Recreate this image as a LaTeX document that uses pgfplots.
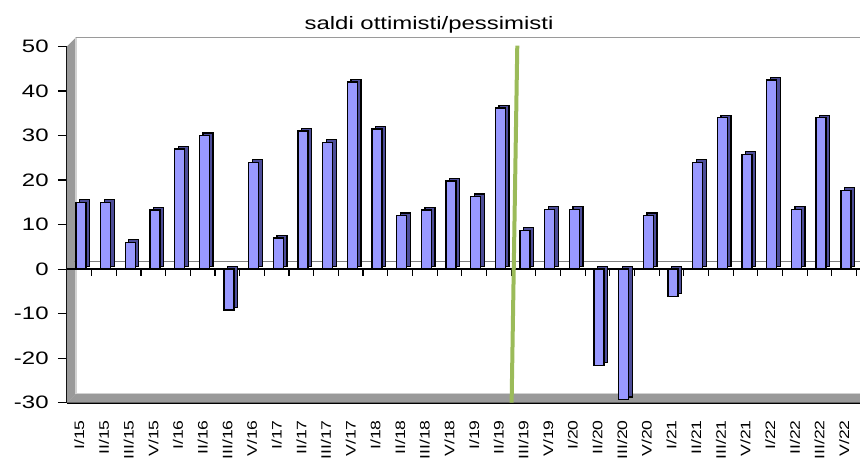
\documentclass[border=0pt]{standalone}
\usepackage{fontspec}
\setmainfont{Liberation Sans}
\usepackage{pgfplots}
\usepackage{pgfplotstable}
\pgfplotsset{compat=1.18}
\definecolor{barfront}{HTML}{9999FF}
\definecolor{barside}{HTML}{4D4D99}
\definecolor{wallgray}{HTML}{9A9A9A}
\definecolor{divgreen}{HTML}{9BBB59}

% saldi ottimisti/pessimisti, one value per quarter
\pgfplotstableread{
x y
0 15
1 15
2 6
3 13.3
4 27
5 30
6 -9.2
7 24
8 7
9 31
10 28.5
11 42
12 31.5
13 12
14 13.3
15 19.8
16 16.3
17 36.2
18 8.7
19 13.4
20 13.4
21 -21.6
22 -29.3
23 12
24 -6.1
25 24
26 34
27 25.8
28 42.5
29 13.4
30 34
31 17.7
}\saldi

\begin{document}
\begin{tikzpicture}
\begin{axis}[
  scale only axis,
  width=396.5pt, height=178.1pt,
  xmin=-0.5, xmax=31.64,
  ymin=-30, ymax=50,
  clip=false,
  axis lines*=left,
  axis line style={black, line width=0.9pt},
  xtick={0,...,31},
  xticklabels={I/15,II/15,III/15,V/15,I/16,II/16,III/16,V/16,I/17,II/17,III/17,V/17,I/18,II/18,III/18,V/18,I/19,II/19,III/19,V/19,I/20,II/20,III/20,V/20,I/21,II/21,III/21,V/21,I/22,II/22,III/22,V/22},
  x tick style={draw=none},
  xticklabel style={yshift=-0.8pt, rotate=90, yscale=0.78, anchor=east, font=\fontsize{8.8}{10}\selectfont},
  ytick={-30,-20,...,50},
  yticklabels={-30,-20,-10,0,10,20,30,40,50},
  y tick style={black, line width=0.6pt},
  tick align=outside,
  major tick length=4.5pt,
  yticklabel style={xscale=1.33, font=\fontsize{9}{10}\selectfont},
]
% walls of the 3d frame
\fill[wallgray] (axis cs:-0.5,-30) -- (axis cs:-0.5,50) -- ([shift={(4.5pt,4.5pt)}]axis cs:-0.5,50)
  -- ([shift={(4.5pt,4.5pt)}]axis cs:-0.5,-30) -- cycle;
\fill[wallgray] (axis cs:-0.5,-30) -- ([shift={(4.5pt,4.5pt)}]axis cs:-0.5,-30)
  -- ([shift={(4.5pt,4.5pt)}]axis cs:33,-30) -- (axis cs:33,-30) -- cycle;
\draw[gray!35, line width=0.6pt] ([shift={(4.5pt,4.5pt)}]axis cs:-0.5,50) -- ([shift={(4.5pt,4.5pt)}]axis cs:-0.5,-30)
  -- ([shift={(4.5pt,4.5pt)}]axis cs:33,-30);
\draw[wallgray, line width=0.8pt] ([shift={(4.5pt,4.5pt)}]axis cs:-0.5,50) -- ([shift={(4.5pt,4.5pt)}]axis cs:33,50);
% zero plane with its category ticks
\draw[gray, line width=0.4pt] (axis cs:-0.2,1.7) -- (axis cs:33,1.7);
\draw[black, line width=0.9pt] (axis cs:-0.5,0) -- (axis cs:33,0);
\pgfplotsinvokeforeach{0.5,1.5,...,31.5}{\draw[black, line width=0.6pt] (axis cs:#1,0) -- ([yshift=-3.3pt]axis cs:#1,0);}

\addplot[ybar, bar width=5pt, bar shift=2.6pt, yshift=1.3pt, fill=barside, draw=black, line width=0.6pt] table[x=x, y=y] {\saldi};
\addplot[ybar, bar width=5pt, bar shift=0.8pt, fill=barfront, draw=black, line width=0.7pt] table[x=x, y=y] {\saldi};

\draw[divgreen, line width=2pt] (axis cs:17.75,50.2) -- (axis cs:17.52,-30);

\node[anchor=base, xscale=1.33, font=\fontsize{9}{10}\selectfont] at ([yshift=8.6pt]rel axis cs:0.4565,1) {saldi ottimisti/pessimisti};
\coordinate (bl) at (rel axis cs:0,0);
\coordinate (tr) at (rel axis cs:1,1);
\end{axis}
\pgfresetboundingbox
\path[use as bounding box] ([shift={(-33.5pt,-27.65pt)}]bl) rectangle ([shift={(0pt,23.25pt)}]tr);
\end{tikzpicture}
\end{document}
